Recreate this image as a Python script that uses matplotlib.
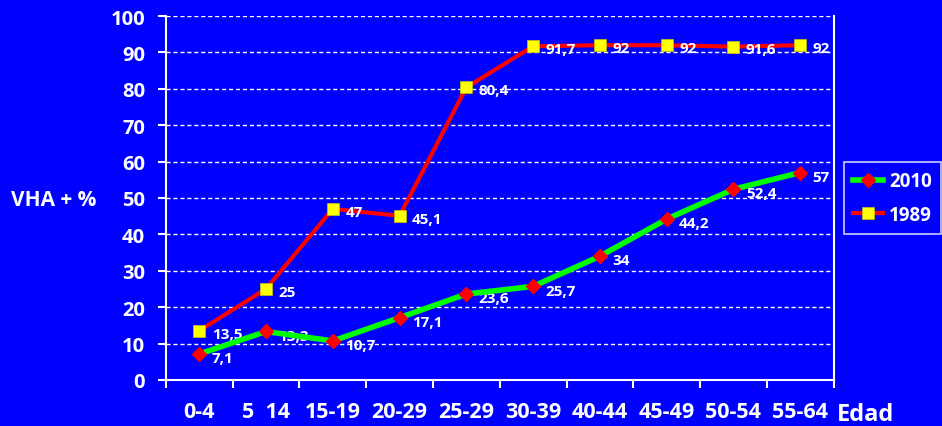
import matplotlib.pyplot as plt
from matplotlib.ticker import FixedLocator

# Age groups and values
edades = ['0-4', '5  14', '15-19', '20-29', '25-29', '30-39', '40-44', '45-49', '50-54', '55-64']
vha_2010 = [7.1, 13.3, 10.7, 17.1, 23.6, 25.7, 34, 44.2, 52.4, 57]
vha_1989 = [13.5, 25, 47, 45.1, 80.4, 91.7, 92, 92, 91.6, 92]
etiq_2010 = ['7,1', '13,3', '10,7', '17,1', '23,6', '25,7', '34', '44,2', '52,4', '57']
etiq_1989 = ['13,5', '25', '47', '45,1', '80,4', '91,7', '92', '92', '91,6', '92']

fondo = '#0000FF'
plt.rcParams['font.family'] = ['Open Sans', 'DejaVu Sans']
plt.rcParams['font.weight'] = 'bold'

fig = plt.figure(figsize=(9.42, 4.27), dpi=100, facecolor=fondo)
ax = fig.add_axes([0.176, 0.108, 0.709, 0.852], facecolor=fondo)

x = list(range(len(edades)))

# 1989: red line with yellow squares
ax.plot(x, vha_1989, color='#FF0000', lw=3, marker='s', ms=9,
        mfc='#FFFF00', mec='#C8C800', mew=0.5, label='1989', zorder=3)
# 2010: green line with red diamonds
ax.plot(x, vha_2010, color='#00FF00', lw=4, marker='D', ms=7,
        mfc='#FF0000', mec='#FF0000', label='2010', zorder=4)

for xi, v, t in zip(x, vha_1989, etiq_1989):
    ax.annotate(t, (xi, v), xytext=(9, -2), textcoords='offset points',
                ha='left', va='center', color='white', fontsize=11, fontweight='bold')
for xi, v, t in zip(x, vha_2010, etiq_2010):
    ax.annotate(t, (xi, v), xytext=(9, -3), textcoords='offset points',
                ha='left', va='center', color='white', fontsize=11, fontweight='bold')

ax.set_xlim(-0.5, len(edades) - 0.5)
ax.set_ylim(0, 100)
ax.set_yticks(range(0, 101, 10))
ax.xaxis.set_major_locator(FixedLocator([i - 0.5 for i in range(len(edades) + 1)]))
ax.xaxis.set_minor_locator(FixedLocator(x))
ax.set_xticklabels([])
ax.set_xticklabels(edades, minor=True)

ax.tick_params(axis='x', which='major', colors='white', length=6, width=1.5, direction='out')
ax.tick_params(axis='x', which='minor', length=0, pad=15, labelcolor='white', labelsize=15.5)
ax.tick_params(axis='y', colors='white', length=6, width=1.5, pad=9, labelsize=14.5)
for lab in ax.get_xticklabels(minor=True) + ax.get_yticklabels():
    lab.set_fontweight('bold')

ax.grid(axis='y', color='white', linestyle=(0, (3, 2)), lw=1)
ax.set_axisbelow(True)
for side in ['left', 'bottom', 'right']:
    ax.spines[side].set_color('white')
    ax.spines[side].set_linewidth(1.5)
ax.spines['top'].set_visible(False)

fig.text(0.012, 0.53, 'VHA + %', color='white', fontsize=15, fontweight='bold',
         ha='left', va='center')
fig.text(0.888, 0.028, 'Edad', color='white', fontsize=17, fontweight='bold',
         ha='left', va='center')

handles, labels = ax.get_legend_handles_labels()
leg = fig.legend(handles[::-1], labels[::-1], loc='center right',
                 bbox_to_anchor=(0.999, 0.534), frameon=True, fancybox=False,
                 facecolor=fondo, edgecolor='white', fontsize=13.5,
                 labelcolor='white', handlelength=1.6, handletextpad=0.3,
                 borderpad=0.5, labelspacing=0.7, borderaxespad=0)
leg.get_frame().set_linewidth(1.2)
for t in leg.get_texts():
    t.set_fontweight('bold')

fig.savefig('out.png', dpi=100, facecolor=fondo)
